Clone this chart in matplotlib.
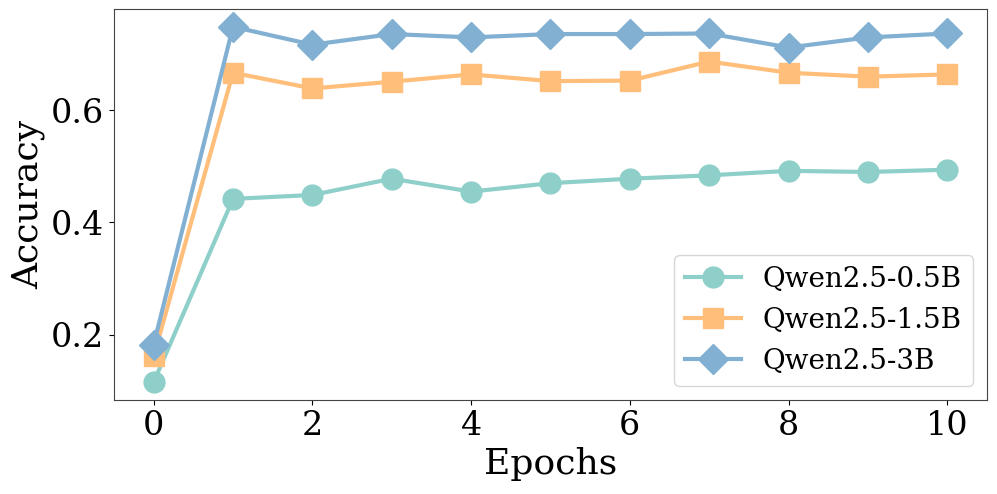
import matplotlib
matplotlib.use("Agg")
import matplotlib.pyplot as plt

# -- Data
epochs = list(range(11))
acc_05b = [0.115, 0.442, 0.449, 0.478, 0.455, 0.470, 0.478, 0.484, 0.492, 0.490, 0.494]
acc_15b = [0.161, 0.667, 0.639, 0.651, 0.664, 0.652, 0.653, 0.687, 0.667, 0.660, 0.664]
acc_3b = [0.182, 0.749, 0.717, 0.736, 0.730, 0.736, 0.736, 0.737, 0.712, 0.730, 0.737]

series = [
    ("Qwen2.5-0.5B", acc_05b, "o", "#8ECFC9"),
    ("Qwen2.5-1.5B", acc_15b, "s", "#FFBE7A"),
    ("Qwen2.5-3B", acc_3b, "D", "#82B0D2"),
]

plt.rcParams["font.family"] = "DejaVu Serif"

fig = plt.figure(figsize=(9.97, 4.94), dpi=100)
ax = fig.add_axes([0.1143, 0.1903, 0.8757, 0.7915])

for label, vals, marker, color in series:
    ax.plot(epochs, vals, marker=marker, color=color, label=label,
            linewidth=3, markersize=15)

ax.set_xlabel("Epochs", fontsize=26)
ax.set_ylabel("Accuracy", fontsize=26)
ax.set_xticks([0, 2, 4, 6, 8, 10])
ax.set_yticks([0.2, 0.4, 0.6])
ax.tick_params(labelsize=24)
for s in ax.spines.values():
    s.set_color("#444444")
ax.legend(loc="lower right", fontsize=20)

fig.savefig("out.png", dpi=100)
